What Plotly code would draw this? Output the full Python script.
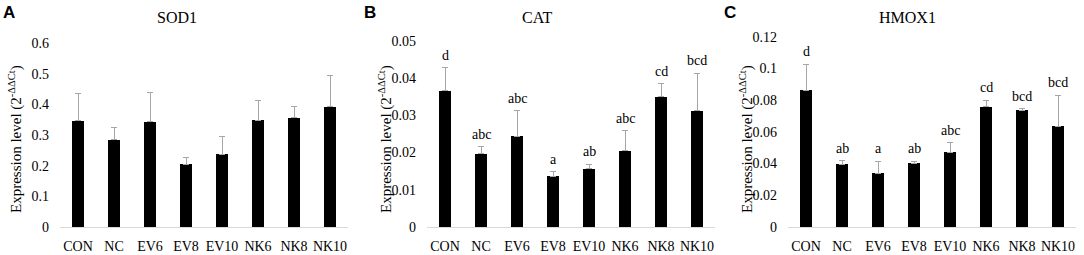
import plotly.graph_objects as go

W, H = 1084, 255

categories = ["CON", "NC", "EV6", "EV8", "EV10", "NK6", "NK8", "NK10"]

sod1_mean = [0.347, 0.284, 0.344, 0.205, 0.238, 0.348, 0.357, 0.392]
sod1_upper = [0.435, 0.325, 0.438, 0.228, 0.295, 0.412, 0.393, 0.493]
sod1_letters = ["", "", "", "", "", "", "", ""]

cat_mean = [0.0366, 0.0196, 0.0244, 0.0136, 0.0157, 0.0205, 0.0350, 0.0312]
cat_upper = [0.0428, 0.0216, 0.0312, 0.0148, 0.0168, 0.0259, 0.0384, 0.0412]
cat_letters = ["d", "abc", "abc", "a", "ab", "abc", "cd", "bcd"]

hmox1_mean = [0.0863, 0.0395, 0.0340, 0.0401, 0.0472, 0.0758, 0.0737, 0.0634]
hmox1_upper = [0.1026, 0.0418, 0.0416, 0.0416, 0.0530, 0.0800, 0.0745, 0.0832]
hmox1_letters = ["d", "ab", "a", "ab", "abc", "cd", "bcd", "bcd"]

sod1_ticks = [0, 0.1, 0.2, 0.3, 0.4, 0.5, 0.6]
sod1_ticktext = ["0", "0.1", "0.2", "0.3", "0.4", "0.5", "0.6"]
cat_ticks = [0, 0.01, 0.02, 0.03, 0.04, 0.05]
cat_ticktext = ["0", "0.01", "0.02", "0.03", "0.04", "0.05"]
hmox1_ticks = [0, 0.02, 0.04, 0.06, 0.08, 0.10, 0.12]
hmox1_ticktext = ["0", "0.02", "0.04", "0.06", "0.08", "0.1", "0.12"]

panel_letters = ["A", "B", "C"]
titles = ["SOD1", "CAT", "HMOX1"]
ytitle = "Expression level (2<sup>-ΔΔCt</sup>)"

SERIF = "Liberation Serif"
SANS = "Liberation Sans"

panels = [
    dict(mean=sod1_mean, upper=sod1_upper, letters=sod1_letters, ticks=sod1_ticks,
         ticktext=sod1_ticktext, xdom=(60, 348), ytop=43, title_x=177, letter_x=9, ytitle_x=15),
    dict(mean=cat_mean, upper=cat_upper, letters=cat_letters, ticks=cat_ticks,
         ticktext=cat_ticktext, xdom=(427, 715), ytop=40.7, title_x=537, letter_x=370, ytitle_x=385),
    dict(mean=hmox1_mean, upper=hmox1_upper, letters=hmox1_letters, ticks=hmox1_ticks,
         ticktext=hmox1_ticktext, xdom=(788, 1076), ytop=36.7, title_x=907, letter_x=730, ytitle_x=746),
]

baseline = 227

fig = go.Figure()
annotations = []
layout = {}

for i, p in enumerate(panels):
    n = "" if i == 0 else str(i + 1)
    xa, ya = "x" + n, "y" + n
    errs = [u - m for u, m in zip(p["upper"], p["mean"])]
    fig.add_trace(go.Bar(
        x=categories, y=p["mean"], xaxis=xa, yaxis=ya,
        marker=dict(color="black", line=dict(width=0)),
        width=0.33,
        error_y=dict(type="data", symmetric=False, array=errs,
                     arrayminus=[0] * len(errs), color="#a6a6a6",
                     thickness=1, width=3),
        showlegend=False, hoverinfo="skip",
    ))
    layout["xaxis" + n] = dict(
        domain=[p["xdom"][0] / W, p["xdom"][1] / W],
        anchor=ya, type="category", range=[-0.5, 7.5],
        showline=True, linecolor="#d9d9d9", linewidth=1,
        ticks="", showgrid=False, zeroline=False, automargin=False,
        tickfont=dict(family=SERIF, size=14, color="black"),
        ticklabelstandoff=6, ticklabeloverflow="allow",
    )
    layout["yaxis" + n] = dict(
        domain=[(H - baseline) / H, (H - p["ytop"]) / H],
        anchor=xa, range=[0, p["ticks"][-1]],
        tickvals=p["ticks"], ticktext=p["ticktext"],
        showline=False, ticks="", showgrid=False, zeroline=False, automargin=False,
        tickfont=dict(family=SERIF, size=14, color="black"),
        ticklabelstandoff=10, ticklabeloverflow="allow",
    )
    for c, u, t in zip(categories, p["upper"], p["letters"]):
        if t:
            annotations.append(dict(
                x=c, y=u, xref=xa, yref=ya, text=t, showarrow=False,
                yanchor="bottom", yshift=3,
                font=dict(family=SERIF, size=14, color="black"),
            ))
    annotations.append(dict(
        x=p["title_x"] / W, y=(H - 18) / H, xref="paper", yref="paper",
        text=titles[i], showarrow=False, xanchor="center", yanchor="middle",
        font=dict(family=SERIF, size=16, color="black"),
    ))
    annotations.append(dict(
        x=p["letter_x"] / W, y=(H - 12.5) / H, xref="paper", yref="paper",
        text="<b>" + panel_letters[i] + "</b>", showarrow=False,
        xanchor="center", yanchor="middle",
        font=dict(family=SANS, size=17, color="black"),
    ))
    annotations.append(dict(
        x=p["ytitle_x"] / W, y=(H - 139) / H, xref="paper", yref="paper",
        text=ytitle, showarrow=False, textangle=-90,
        xanchor="center", yanchor="middle",
        font=dict(family=SERIF, size=15, color="black"),
    ))

fig.update_layout(
    width=W, height=H, autosize=False,
    margin=dict(l=0, r=0, t=0, b=0, autoexpand=False),
    paper_bgcolor="white", plot_bgcolor="white",
    font=dict(family=SERIF, size=14, color="black"),
    annotations=annotations, bargap=0,
    **layout,
)

fig.write_html(
    "out.html",
    config={"displayModeBar": False, "staticPlot": True},
    post_script="document.body.style.margin='0';document.body.style.overflow='hidden';",
)
